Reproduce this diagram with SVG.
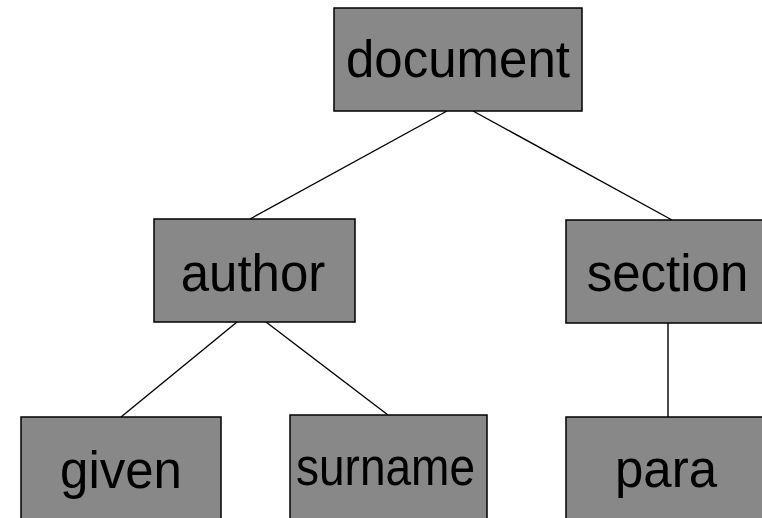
<svg xmlns="http://www.w3.org/2000/svg" width="762" height="518" viewBox="0 0 762 518">
<style>
.box{fill:#888888;stroke:#000;stroke-width:1.5}
.lbl{font-family:"Liberation Sans",Arial,sans-serif;font-size:51px;fill:#000;text-anchor:middle}
.edge{stroke:#000;stroke-width:1.4;fill:none}
</style>
<rect width="762" height="518" fill="#fff"/>
<g id="connectors">
<line class="edge" x1="447" y1="111" x2="250" y2="219"/>
<line class="edge" x1="473" y1="111" x2="672" y2="220"/>
<line class="edge" x1="237" y1="322" x2="121" y2="417"/>
<line class="edge" x1="266" y1="322" x2="388" y2="415"/>
<line class="edge" x1="668" y1="323" x2="668" y2="417"/>
</g>
<g id="document"><rect class="box" x="334" y="8" width="248" height="103"/><text class="lbl" x="458" y="77">document</text></g>
<g id="author"><rect class="box" x="154" y="219" width="201" height="103"/><text class="lbl" x="253" y="291">author</text></g>
<g id="section"><rect class="box" x="566" y="220" width="204" height="103"/><text class="lbl" x="667.5" y="291">section</text></g>
<g id="given"><rect class="box" x="21" y="417" width="200" height="110"/><text class="lbl" x="121" y="488">given</text></g>
<g id="surname"><rect class="box" x="290" y="415" width="197" height="112"/><text class="lbl" x="385.5" y="485" textLength="179" lengthAdjust="spacingAndGlyphs">surname</text></g>
<g id="para"><rect class="box" x="566" y="417" width="204" height="110"/><text class="lbl" x="666" y="487">para</text></g>
</svg>
